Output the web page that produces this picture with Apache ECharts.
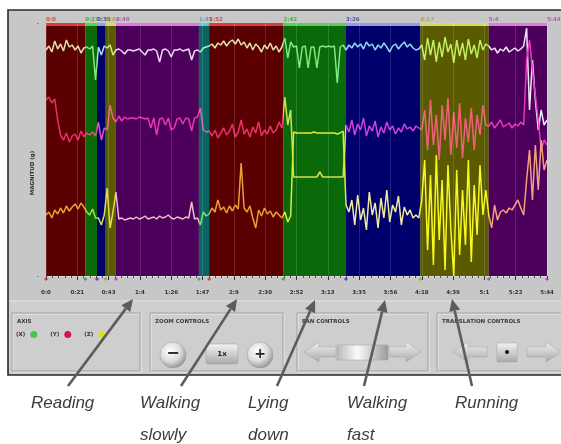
<!DOCTYPE html>
<html><head><meta charset="utf-8">
<script src="https://cdn.jsdelivr.net/npm/echarts@6/dist/echarts.min.js"></script>
<style>html,body{margin:0;padding:0;background:#fff;}#c{width:561px;height:444px;}</style>
</head><body><div id="c"></div>
<script>
// ---------- data ----------
const sampleStep = 2; // seconds between samples
const tickInterval = 21.5;
const tickLabels = ['0:0','0:21','0:43','1:4','1:26','1:47','2:9','2:30','2:52','3:13','3:35','3:56','4:18','4:39','5:1','5:22','5:44'];
const segStarts = [0,27,35,41,48,105,112,163,206,257,304];
const segEnds   = [27,35,41,48,105,112,163,206,257,304,344];
const boundaryTimes  = [0,27,35,41,48,105,112,163,206,257,304,344];
const boundaryLabels = ['0:0','0:27','0:35','0:41','0:48','1:45','1:52','2:42','3:26','4:17','5:4','5:44'];
const seriesNames = ['(X)','(Y)','(Z)'];
const axisX = [2.26,2.30,2.24,2.35,2.27,2.32,2.25,2.36,2.29,2.31,2.26,2.30,2.23,2.28,
 2.29,2.27,2.30,1.96, 2.29,2.21,2.30, 2.28,2.31,2.21,
 2.26,2.27,2.25,2.22,2.26,2.26,2.25,2.26,2.27,2.24,2.21,2.26,2.26,2.27,2.25,2.14,2.26,2.27,2.25,2.19,2.26,2.26,2.27,2.25,2.26,2.27,2.16,2.25,2.26,
 2.24,2.28,2.29,
 2.30,2.32,2.28,2.33,2.31,2.35,2.30,2.34,2.36,2.32,2.37,2.31,2.34,2.28,2.33,2.26,2.32,2.29,2.24,2.31,2.27,2.33,2.26,2.30,2.24,2.29,
 2.38,2.18,2.34,2.29,2.30,2.08,2.29,2.30,2.08,2.29,2.29,2.08,2.29,2.30,2.29,2.30,2.29,2.30,1.93,2.29,2.31,
 2.26,2.31,2.28,2.33,2.29,2.32,2.27,2.34,2.30,2.32,2.26,2.31,2.28,2.33,2.29,2.24,2.30,2.32,2.27,2.31,2.34,2.29,2.32,2.28,2.26,2.27,
 2.31,2.16,2.38,2.21,2.36,2.14,2.34,2.19,2.39,2.24,2.32,2.13,2.36,2.20,2.33,2.16,2.37,2.22,2.31,2.18,2.36,2.26,2.32,
 2.30,2.26,2.28,2.23,2.27,2.25,2.29,2.24,2.26,2.28,2.25,2.27,2.30,2.48,1.66,2.16,1.76,1.46,1.66,1.51,1.56];
const axisY = [1.76,1.79,1.73,1.77,1.56,1.41,1.36,1.43,1.34,1.40,1.42,1.36,1.45,1.39,
 1.43,1.41,1.44,1.40, 1.54,1.36,1.48, 1.46,1.71,1.58,
 1.54,1.60,1.55,1.59,1.57,1.58,1.58,1.57,1.59,1.58,1.57,1.58,1.48,1.58,1.41,1.57,1.58,1.51,1.58,1.46,1.48,1.57,1.58,1.52,1.58,1.57,1.45,1.58,1.59,
 1.68,1.46,1.44,
 1.45,1.40,1.46,1.38,1.43,1.48,1.41,1.45,1.52,1.39,1.44,1.56,1.42,1.47,1.39,1.49,1.43,1.54,1.40,1.46,1.42,1.50,1.43,1.46,1.54,1.48,
 1.79,1.51,1.66,0.99,0.99,0.99,0.99,0.99,0.99,0.99,0.99,0.99,1.04,0.99,0.99,0.99,0.99,0.99,0.99,0.99,0.99,
 1.51,1.44,1.56,1.41,1.52,1.46,1.58,1.40,1.50,1.45,1.55,1.39,1.49,1.43,1.54,1.46,1.50,1.42,1.48,1.44,1.52,1.47,1.49,1.45,1.50,1.48,
 1.46,1.66,1.26,1.76,1.31,1.61,1.16,1.71,1.36,1.78,1.21,1.64,1.28,1.73,1.18,1.58,1.34,1.68,1.26,1.61,1.41,1.71,1.51,
 1.50,1.54,1.48,1.52,1.56,1.49,1.51,1.53,1.48,1.52,1.50,1.54,1.51,2.16,2.36,2.06,1.81,1.56,1.26,1.36,1.31];
const axisZ = [0.61,0.64,0.58,0.66,0.62,0.68,0.63,0.70,0.65,0.69,0.72,0.67,0.73,0.69,
 0.64,0.61,0.67,0.58, 0.58,0.51,0.61, 0.88,0.48,0.64,
 0.84,0.57,0.58,0.56,0.57,0.58,0.57,0.59,0.57,0.58,0.60,0.57,0.58,0.59,0.57,0.60,0.58,0.59,0.61,0.58,0.57,0.59,0.58,0.57,0.59,0.58,0.74,0.57,0.58,
 0.51,0.64,0.60,
 0.62,0.68,0.64,0.76,0.66,0.69,0.63,0.70,0.65,0.71,0.67,1.13,0.68,0.64,0.70,0.58,0.48,0.66,0.60,0.68,0.62,0.65,0.59,0.64,0.61,0.58,
 0.64,0.54,0.60,1.44,1.43,1.43,1.43,1.43,1.43,1.43,1.44,1.43,1.43,1.43,1.43,1.43,1.43,1.43,1.42,1.43,1.45,
 0.71,0.64,0.76,0.51,0.81,0.56,0.68,0.46,0.84,0.61,0.73,0.48,0.78,0.58,0.86,0.54,0.71,0.64,0.80,0.51,0.69,0.61,0.66,0.58,0.61,0.58,
 0.76,1.16,0.26,1.01,0.11,1.21,0.36,0.96,0.06,1.11,0.46,0.00,1.06,0.21,0.86,0.31,1.16,0.14,0.91,0.41,1.11,0.61,0.86,
 0.61,0.48,0.71,0.56,0.64,0.66,0.63,0.68,0.66,0.71,0.76,0.68,0.61,0.96,1.26,0.76,1.31,0.86,1.36,1.06,1.16];
const annotations = [['Reading',''],['Walking','slowly'],['Lying','down'],['Walking','fast'],['Running','']];

// ---------- styles ----------
const bgColors    = ['#5a0000','#0a6a0a','#00006c','#5a5a00','#4c005c','#0a6464','#5a0000','#0a6a0a','#00006c','#5a5a00','#4c005c'];
const stripColors = ['#e03a3a','#5ad05a','#9a9ae0','#dada60','#e07ae0','#5ad0d0','#e03a3a','#5ad05a','#9a9ae0','#dada60','#e07ae0'];
const labelColors = ['#c83030','#30a030','#3030b0','#a0a030','#b040b0','#30a0a0','#c83030','#30a030','#3030b0','#a0a030','#b040b0','#b040b0'];
const lineColors = [
 ['#e0e0a8','#80e880','#a8e0f0','#c8f070','#e8dcf0','#a0f0c0','#e0e0a8','#80e880','#90d8f0','#c0f060','#f0e8f8'],
 ['#e8306a','#e05090','#e050c0','#f06080','#e838a8','#e060b0','#e8306a','#d0e050','#d040d8','#f06078','#e838c0'],
 ['#e8a030','#a0e040','#d0e060','#e0e040','#e8c0c8','#80e070','#e8a030','#e0e840','#f0e8a0','#f8f820','#f0a080']];
const legendColors = ['#40c850','#d8105a','#e0e020'];
const annX = [[133,299,68,386,31],[237,299,181,386,140],[315,300,277,386,248],[385,300,364,386,347],[452,299,472,386,455]];

const chart = echarts.init(document.getElementById('c'), null, {renderer:'canvas'});
const yMax = 2.53, stripBase = 2.5;

const series = [];
series.push({
  type:'line', data:[], silent:true, z:1,
  markArea:{silent:true, data: segStarts.map((s,i)=>[{xAxis:s, yAxis:0, itemStyle:{color:bgColors[i], opacity:1}},{xAxis:segEnds[i], yAxis:stripBase}])
     .concat(segStarts.map((s,i)=>[{xAxis:s, yAxis:stripBase, itemStyle:{color:stripColors[i], opacity:1}},{xAxis:segEnds[i], yAxis:yMax}])), label:{show:false}},
  markLine:{silent:true, symbol:'none', label:{show:false}, lineStyle:{color:'rgba(255,255,255,0.14)', width:1, type:'solid'},
     data: tickLabels.map((_,i)=>({xAxis:i*tickInterval}))}
});
[axisX, axisY, axisZ].forEach((arr, k)=>{
  series.push({
    name: seriesNames[k], type:'line', showSymbol:false, symbol:'none', z:3+k,
    data: arr.map((v,i)=>[i*sampleStep, v]),
    lineStyle:{width:1.5}, itemStyle:{color:legendColors[k]}, color:legendColors[k]
  });
});
series.push({
  type:'scatter', clip:false, silent:true, symbol:'diamond', symbolSize:4, symbolOffset:[0,3], z:6,
  data: boundaryTimes.map((t,i)=>({value:[t,0], itemStyle:{color:labelColors[i]}}))
});
series.push({
  type:'scatter', clip:false, silent:true, symbolSize:1, z:6, itemStyle:{color:'rgba(0,0,0,0)'},
  data: boundaryTimes.map((t,i)=>({value:[t,yMax], label:{color:labelColors[i]}})),
  label:{show:true, position:'top', align:'left', distance:0, fontSize:5.5, fontWeight:'bold', fontFamily:'DejaVu Sans',
     formatter:(p)=>boundaryLabels[p.dataIndex]}
});

const visualMaps = lineColors.map((cols,k)=>({
  type:'piecewise', show:false, dimension:0, seriesIndex:k+1,
  pieces: segStarts.map((s,i)=> i===segStarts.length-1 ? {gte:s, lte:segEnds[i], color:cols[i]} : {gte:s, lt:segEnds[i], color:cols[i]})
}));

// ---------- chrome ----------
const G = [];
G.push({type:'rect', z:-20, shape:{x:8,y:10,width:560,height:365}, style:{fill:'#c7c7c7', stroke:'#2a2a2a', lineWidth:1.6}});
G.push({type:'rect', z:-19, shape:{x:9,y:301,width:560,height:73}, style:{fill:'#cecece'}});
G.push({type:'line', z:-18, shape:{x1:9,y1:301,x2:561,y2:301}, style:{stroke:'#e6e6e6', lineWidth:1}});
function box(x,y,w,h,title){
  G.push({type:'rect', z:-17, shape:{x:x+1,y:y+1,width:w,height:h}, style:{fill:'none', stroke:'#ededed', lineWidth:1}});
  G.push({type:'rect', z:-17, shape:{x:x,y:y,width:w,height:h}, style:{fill:'none', stroke:'#a2a2a2', lineWidth:1}});
  G.push({type:'text', z:-16, x:x+5, y:y+9, style:{text:title, fontSize:5.5, fontWeight:'bold', fill:'#3a3a3a', fontFamily:'DejaVu Sans', verticalAlign:'middle'}});
}
box(12,313,128,58,'AXIS'); box(150,313,133,58,'ZOOM CONTROLS'); box(297,313,131,58,'PAN CONTROLS'); box(437,313,130,58,'TRANSLATION CONTROLS');
const radial = {type:'radial', x:0.4, y:0.35, r:0.7, colorStops:[{offset:0,color:'#ffffff'},{offset:0.55,color:'#dcdcdc'},{offset:1,color:'#8c8c8c'}]};
const linear = {type:'linear', x:0, y:0, x2:0, y2:1, colorStops:[{offset:0,color:'#f4f4f4'},{offset:1,color:'#a8a8a8'}]};
const linearH = {type:'linear', x:0, y:0, x2:1, y2:0, colorStops:[{offset:0,color:'#b8b8b8'},{offset:0.4,color:'#fafafa'},{offset:1,color:'#9a9a9a'}]};
G.push({type:'circle', shape:{cx:173,cy:355,r:13}, style:{fill:radial, stroke:'#9a9a9a', lineWidth:0.5}});
G.push({type:'text', x:173, y:354, style:{text:'−', fontSize:16, fontWeight:'bold', fill:'#222', align:'center', verticalAlign:'middle', fontFamily:'DejaVu Sans'}});
G.push({type:'rect', shape:{x:206,y:344,width:32,height:20,r:2}, style:{fill:linear, stroke:'#999', lineWidth:0.5}});
G.push({type:'text', x:222, y:354, style:{text:'1x', fontSize:7, fontWeight:'bold', fill:'#222', align:'center', verticalAlign:'middle', fontFamily:'DejaVu Sans'}});
G.push({type:'circle', shape:{cx:260,cy:355,r:13}, style:{fill:radial, stroke:'#9a9a9a', lineWidth:0.5}});
G.push({type:'text', x:260, y:354, style:{text:'+', fontSize:14, fontWeight:'bold', fill:'#222', align:'center', verticalAlign:'middle', fontFamily:'DejaVu Sans'}});
function arrowShape(x0,x1,yc,dir){
  const h=10, hh=5, tip = dir<0?x0:x1, base = dir<0?x0+15:x1-15, tail = dir<0?x1:x0;
  return [[tip,yc],[base,yc-h],[base,yc-hh],[tail,yc-hh],[tail,yc+hh],[base,yc+hh],[base,yc+h]];
}
G.push({type:'polygon', shape:{points:arrowShape(304,336,352,-1)}, style:{fill:linear, stroke:'#a0a0a0', lineWidth:0.5}});
G.push({type:'rect', shape:{x:337,y:345,width:51,height:15}, style:{fill:linearH, stroke:'#a0a0a0', lineWidth:0.5}});
G.push({type:'polygon', shape:{points:arrowShape(389,421,352,1)}, style:{fill:linear, stroke:'#a0a0a0', lineWidth:0.5}});
G.push({type:'polygon', shape:{points:arrowShape(453,487,352,-1)}, style:{fill:linear, stroke:'#a0a0a0', lineWidth:0.5}});
G.push({type:'rect', shape:{x:497,y:343,width:20,height:19}, style:{fill:linear, stroke:'#a0a0a0', lineWidth:0.5}});
G.push({type:'circle', shape:{cx:507,cy:352,r:2}, style:{fill:'#111'}});
G.push({type:'polygon', shape:{points:arrowShape(527,561,352,1)}, style:{fill:linear, stroke:'#a0a0a0', lineWidth:0.5}});
G.push({type:'text', x:33, y:173, rotation:Math.PI/2, style:{text:'MAGNITUD (g)', fontSize:5.5, fontWeight:'bold', fill:'#333', align:'center', verticalAlign:'middle', fontFamily:'DejaVu Sans'}});
annX.forEach((a,i)=>{
  const [tx,ty,bx0,by0,lx] = a;
  const dx=tx-bx0, dy=ty-by0, L=Math.hypot(dx,dy), ux=dx/L, uy=dy/L, hl=12, hw=5.5;
  const hx=tx-ux*hl, hy=ty-uy*hl;
  G.push({type:'line', z:50, shape:{x1:bx0,y1:by0,x2:hx,y2:hy}, style:{stroke:'#5c5c5c', lineWidth:2.6}});
  G.push({type:'polygon', z:50, shape:{points:[[tx,ty],[hx-uy*hw,hy+ux*hw],[hx+uy*hw,hy-ux*hw]]}, style:{fill:'#5c5c5c'}});
  G.push({type:'text', z:50, x:lx, y:403, style:{text:annotations[i][0], fontSize:17, fontStyle:'italic', fill:'#3c3c3c', fontFamily:'Liberation Sans', verticalAlign:'middle'}});
  if (annotations[i][1]) G.push({type:'text', z:50, x:lx, y:435, style:{text:annotations[i][1], fontSize:17, fontStyle:'italic', fill:'#3c3c3c', fontFamily:'Liberation Sans', verticalAlign:'middle'}});
});

chart.setOption({
  animation:false,
  backgroundColor:'#ffffff',
  grid:{left:46, right:14, top:23, bottom:168, outerBoundsMode:'none', containLabel:false},
  xAxis:{type:'value', min:0, max:344, interval:tickInterval,
    axisLine:{show:true, onZero:false, lineStyle:{color:'#dadada', width:1}},
    axisTick:{show:true, length:4, lineStyle:{color:'#333', width:1}},
    minorTick:{show:true, splitNumber:5, length:2, lineStyle:{color:'#555'}},
    splitLine:{show:false},
    axisLabel:{margin:14, fontSize:5.5, fontWeight:'bold', color:'#333', fontFamily:'DejaVu Sans',
       formatter:(v)=>tickLabels[Math.round(v/tickInterval)] || ''}},
  yAxis:{type:'value', min:0, max:yMax, interval:yMax,
    axisLine:{show:false}, axisTick:{show:false}, splitLine:{show:false},
    axisLabel:{show:true, margin:7, fontSize:7, color:'#444', formatter:()=>'-'}},
  legend:{show:true, left:16, top:331, padding:0, itemGap:13, itemWidth:7, itemHeight:7, icon:'circle', align:'right', selectedMode:false,
    data: seriesNames.map((n,k)=>({name:n, itemStyle:{color:legendColors[k]}})),
    textStyle:{fontSize:5.5, fontWeight:'bold', color:'#333', fontFamily:'DejaVu Sans'}},
  visualMap: visualMaps,
  series: series,
  graphic: G
});
</script></body></html>
